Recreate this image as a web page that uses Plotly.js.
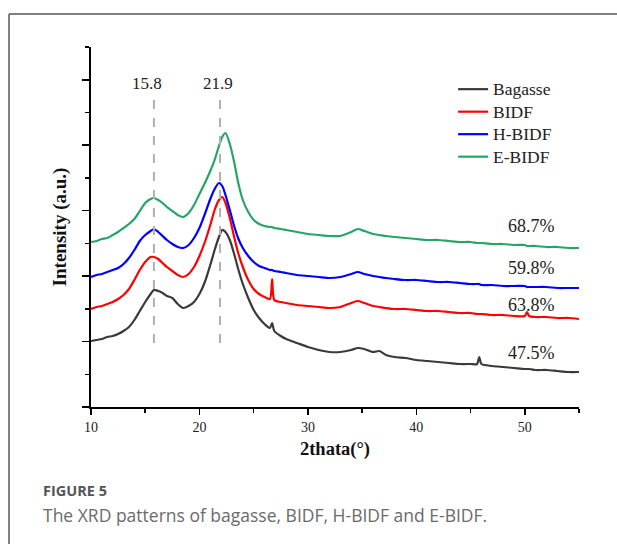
<!DOCTYPE html>
<html>
<head>
<meta charset="utf-8">
<script src="https://cdn.plot.ly/plotly-3.0.1.min.js"></script>
<style>
  html, body { margin: 0; padding: 0; background: #fff; }
  #chart { width: 617px; height: 544px; }
</style>
</head>
<body>
<div id="chart"></div>
<script>
// 2θ positions (degrees)
const twoTheta = [10, 10.5, 11, 11.5, 12, 12.5, 13, 13.5, 14, 14.5, 15, 15.5, 15.8, 16.2, 16.6, 17, 17.5, 18, 18.5, 19, 19.5, 20, 20.5, 21, 21.4, 21.8, 22.1, 22.4, 22.8, 23.2, 23.6, 24, 24.5, 25, 25.5, 26, 26.5, 26.7, 26.9, 27.5, 28, 29, 30, 31, 32, 33, 34, 34.6, 35.2, 36, 36.6, 37.2, 38, 39, 40, 41, 42, 43, 44, 45, 45.6, 45.8, 46.0, 47, 48, 49, 50, 50.2, 50.4, 51, 52, 53, 54, 55];

// Stacked intensities (a.u.)
const bagasse = [66, 67, 68, 70, 71, 73, 76, 80, 87, 96, 105, 113, 117, 116, 114, 111, 109, 103, 99, 101, 105, 113, 125, 142, 157, 170, 177, 175, 167, 153, 137, 123, 109, 97, 89, 83, 79, 84, 76, 71, 68, 64, 60, 57, 55, 55, 57, 59, 58, 55, 56, 52, 50, 49, 47, 46, 45, 44, 43, 43, 43, 50, 43, 41, 40, 39, 38, 38, 38, 37, 37, 36, 35, 35];
const bidf = [98, 100, 101, 103, 105, 108, 112, 118, 127, 137, 145, 150, 150, 148, 144, 140, 136, 132, 130, 133, 140, 151, 165, 182, 197, 207, 210, 204, 189, 170, 153, 140, 127, 118, 113, 110, 108, 128, 107, 105, 104, 102, 101, 100, 99, 100, 104, 106, 104, 101, 100, 99, 98, 98, 97, 96, 96, 95, 94, 94, 93, 93, 93, 92, 92, 91, 91, 95, 91, 90, 90, 89, 89, 88];
const hBidf = [130, 132, 133, 135, 137, 139, 143, 149, 157, 166, 172, 176, 178, 175, 171, 167, 163, 160, 159, 162, 169, 179, 193, 208, 218, 224, 221, 212, 197, 181, 168, 159, 151, 145, 141, 139, 137, 137, 136, 135, 134, 132, 131, 130, 129, 130, 133, 135, 133, 131, 130, 129, 128, 127, 127, 126, 125, 125, 124, 123, 123, 123, 122, 122, 121, 121, 121, 120, 120, 120, 120, 119, 119, 119];
const eBidf = [165, 166, 168, 169, 172, 175, 179, 183, 188, 196, 204, 208, 209, 207, 204, 200, 196, 192, 190, 194, 202, 213, 224, 236, 247, 261, 270, 274, 263, 245, 223, 207, 195, 187, 183, 181, 180, 180, 179, 178, 177, 175, 173, 172, 171, 171, 175, 178, 176, 173, 172, 171, 170, 169, 168, 167, 167, 166, 165, 165, 164, 164, 164, 163, 163, 162, 162, 161, 161, 161, 160, 160, 159, 159];

const seriesNames = ['Bagasse', 'BIDF', 'H-BIDF', 'E-BIDF'];
const seriesValues = [bagasse, bidf, hBidf, eBidf];
const crystallinity = ['47.5%', '63.8%', '59.8%', '68.7%'];
const peakPositions = [15.8, 21.9];
const peakLabels = ['15.8', '21.9'];

// styling / placement (not data)
const colors = ['#3a3a3a', '#ff0000', '#0000ff', '#27a566'];
const labelY = [54, 102, 139, 181];
const labelX = 50.6;
const peakLabelShift = [-7, -2];

const serif = 'Liberation Serif, Times New Roman, serif';

const traces = seriesNames.map((name, i) => ({
  type: 'scatter',
  mode: 'lines',
  name: '<span style="font-size:17.5px">' + name + '</span>',
  x: twoTheta,
  y: seriesValues[i],
  line: { color: colors[i], width: 2.2, shape: 'spline', smoothing: 0.7 },
  hoverinfo: 'skip'
}));

const annotations = [];
crystallinity.forEach((t, i) => {
  annotations.push({
    x: labelX, y: labelY[i], xref: 'x', yref: 'y', text: t, showarrow: false,
    font: { family: serif, size: 18, color: '#222' }, xanchor: 'center', yanchor: 'middle'
  });
});
peakPositions.forEach((p, i) => {
  annotations.push({
    x: p, y: 324, xref: 'x', yref: 'y', text: peakLabels[i], showarrow: false,
    font: { family: serif, size: 17, color: '#222' }, xanchor: 'center', yanchor: 'middle', xshift: peakLabelShift[i]
  });
});
annotations.push({
  x: -0.1025, y: -0.232, xref: 'paper', yref: 'paper', text: '<b>FIGURE 5</b>', showarrow: false,
  font: { family: 'Open Sans, sans-serif', size: 14.5, color: '#555' }, xanchor: 'left', yanchor: 'middle'
});
annotations.push({
  x: -0.1025, y: -0.30, xref: 'paper', yref: 'paper', text: 'The XRD patterns of bagasse, BIDF, H-BIDF and E-BIDF.', showarrow: false,
  font: { family: 'Open Sans, sans-serif', size: 17.5, color: '#6a6a6a' }, xanchor: 'left', yanchor: 'middle'
});

const shapes = peakPositions.map(p => ({
  type: 'line', xref: 'x', yref: 'y', x0: p, x1: p, y0: 64, y1: 310,
  line: { color: '#b0b0b0', width: 2, dash: 'dash' }
}));
// figure frame (top and left border)
shapes.push({ type: 'line', xref: 'paper', yref: 'paper', x0: -0.168, x1: 1.1, y0: 1.092, y1: 1.092, line: { color: '#555', width: 1.5 } });
shapes.push({ type: 'line', xref: 'paper', yref: 'paper', x0: -0.168, x1: -0.168, y0: 1.092, y1: -0.4, line: { color: '#555', width: 1.5 } });

const layout = {
  width: 617, height: 544,
  margin: { l: 91, r: 38, t: 47, b: 137 },
  paper_bgcolor: '#fff', plot_bgcolor: '#fff',
  showlegend: true,
  legend: {
    x: 0.742, y: 0.928, xanchor: 'left', yanchor: 'top',
    font: { family: serif, size: 15, color: '#222' },
    bgcolor: 'rgba(0,0,0,0)', borderwidth: 0, tracegroupgap: 0
  },
  xaxis: {
    range: [10, 55], showgrid: false, zeroline: false,
    showline: true, linecolor: '#000', linewidth: 2,
    ticks: 'outside', ticklen: 6, tickwidth: 1.5, tickcolor: '#000',
    tick0: 10, dtick: 10,
    minor: { ticks: 'outside', ticklen: 4, tickwidth: 1.5, tickcolor: '#000', dtick: 5 },
    tickfont: { family: serif, size: 14, color: '#222' },
    title: { text: '<b>2thata(°)</b>', font: { family: serif, size: 18.5, color: '#111' }, standoff: 8 }
  },
  yaxis: {
    range: [0, 360], showgrid: false, zeroline: false,
    showline: true, linecolor: '#000', linewidth: 2,
    ticks: 'outside', ticklen: 7, tickwidth: 1.5, tickcolor: '#000',
    tick0: 0, dtick: 65.45, showticklabels: false,
    minor: { ticks: 'outside', ticklen: 4, tickwidth: 1.5, tickcolor: '#000', tick0: 0, dtick: 32.725 },
    title: { text: '<b>Intensity (a.u.)</b>', font: { family: serif, size: 19, color: '#111' }, standoff: 10 }
  },
  annotations: annotations,
  shapes: shapes
};

Plotly.newPlot('chart', traces, layout, { displayModeBar: false, staticPlot: true });
</script>
</body>
</html>
